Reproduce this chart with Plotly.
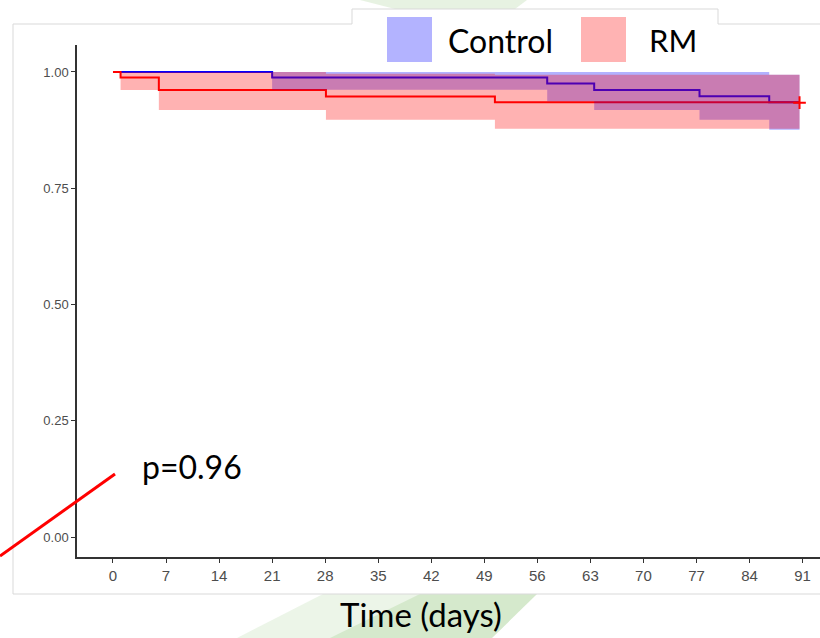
import plotly.graph_objects as go

# ---- data ----
ctrl_time = [0, 21, 57.3, 63.5, 77.4, 86.6]
ctrl_surv = [1.0, 0.988, 0.975, 0.961, 0.948, 0.935]
ctrl_upper = [1.0, 1.0, 1.0, 1.0, 1.0, 0.994]
ctrl_lower = [1.0, 0.962, 0.937, 0.918, 0.897, 0.876]

rm_time = [0, 1, 6.05, 28.1, 50.4]
rm_surv = [1.0, 0.988, 0.961, 0.947, 0.935]
rm_upper = [1.0, 1.0, 1.0, 0.996, 0.994]
rm_lower = [1.0, 0.961, 0.918, 0.897, 0.878]

end_time = 90.6
censor_time = [90.6]
censor_surv = [0.934]

x_ticks = [0, 7, 14, 21, 28, 35, 42, 49, 56, 63, 70, 77, 84, 91]
y_ticks = [0.0, 0.25, 0.5, 0.75, 1.0]
y_tick_text = ["0.00", "0.25", "0.50", "0.75", "1.00"]

series_names = ["Control", "RM"]
p_text = "p=0.96"
x_title = "Time (days)"

BLUE = "#0000FF"
RED = "#FF0000"
BLUE_FILL = "rgba(0,0,255,0.3)"
RED_FILL = "rgba(255,0,0,0.3)"


def step_xy(t, v, end):
    xs, ys = [], []
    for i in range(len(t)):
        nxt = t[i + 1] if i + 1 < len(t) else end
        xs += [t[i], nxt]
        ys += [v[i], v[i]]
    return xs, ys


def band_xy(t, up, lo, end):
    ux, uy = step_xy(t, up, end)
    lx, ly = step_xy(t, lo, end)
    return ux + lx[::-1], uy + ly[::-1]


fig = go.Figure()

# lines first, confidence ribbons on top (as in the reference)
for t, s, c, name in [(ctrl_time, ctrl_surv, BLUE, series_names[0]),
                      (rm_time, rm_surv, RED, series_names[1])]:
    fig.add_trace(go.Scatter(x=t + [end_time], y=s + [s[-1]], mode="lines",
                             line=dict(color=c, width=2, shape="hv"),
                             name=name, showlegend=False, hoverinfo="skip"))

for t, up, lo, fc in [(ctrl_time, ctrl_upper, ctrl_lower, BLUE_FILL),
                      (rm_time, rm_upper, rm_lower, RED_FILL)]:
    bx, by = band_xy(t, up, lo, end_time)
    fig.add_trace(go.Scatter(x=bx, y=by, mode="lines", fill="toself",
                             fillcolor=fc, line=dict(width=0),
                             showlegend=False, hoverinfo="skip"))

fig.add_trace(go.Scatter(x=censor_time, y=censor_surv, mode="markers",
                         marker=dict(symbol="cross-thin", size=9,
                                     line=dict(color=RED, width=2)),
                         showlegend=False, hoverinfo="skip"))

# ---- pixel helpers for decorations ----
L, T, W, H = 77, 45, 743, 512


def px(x):
    return (x - L) / W


def py(y):
    return (T + H - y) / H


shapes = []
# green watermark pieces
shapes.append(dict(type="path", xref="paper", yref="paper", layer="below",
                   path=f"M {px(237)},{py(638)} L {px(323)},{py(594)} L {px(537)},{py(594)} L {px(492)},{py(638)} Z",
                   fillcolor="rgba(160,205,140,0.2)", line=dict(width=0)))
shapes.append(dict(type="path", xref="paper", yref="paper", layer="below",
                   path=f"M {px(330)},{py(638)} L {px(420)},{py(594)} L {px(537)},{py(594)} L {px(492)},{py(638)} Z",
                   fillcolor="rgba(160,205,140,0.3)", line=dict(width=0)))
shapes.append(dict(type="path", xref="paper", yref="paper", layer="below",
                   path=f"M {px(360)},{py(0)} L {px(527)},{py(0)} L {px(515)},{py(9)} L {px(395)},{py(9)} Z",
                   fillcolor="rgba(160,205,140,0.25)", line=dict(width=0)))
# frame with legend tab
shapes.append(dict(type="path", xref="paper", yref="paper", layer="below",
                   path=(f"M {px(13)},{py(594)} L {px(13)},{py(24)} L {px(352)},{py(24)} "
                         f"L {px(352)},{py(9)} L {px(718)},{py(9)} L {px(718)},{py(24)} L {px(822)},{py(24)}"),
                   line=dict(color="#D9D9D9", width=1)))
shapes.append(dict(type="line", xref="paper", yref="paper", layer="below",
                   x0=px(13), y0=py(594), x1=px(822), y1=py(594),
                   line=dict(color="#D9D9D9", width=1)))
# legend swatches
shapes.append(dict(type="rect", xref="paper", yref="paper",
                   x0=px(387), x1=px(432), y0=py(62), y1=py(17),
                   fillcolor="#B3B3FF", line=dict(width=0)))
shapes.append(dict(type="rect", xref="paper", yref="paper",
                   x0=px(581), x1=px(626), y0=py(62), y1=py(17),
                   fillcolor="#FFB3B3", line=dict(width=0)))
# red pointer line
shapes.append(dict(type="line", xref="paper", yref="paper",
                   x0=px(0), y0=py(556), x1=px(115), y1=py(474),
                   line=dict(color="#FF0000", width=3)))

BIG = "Lato, 'Open Sans', sans-serif"
annotations = [
    dict(text=series_names[0], xref="paper", yref="paper", x=px(446), y=py(40),
         xanchor="left", yanchor="middle", showarrow=False,
         font=dict(family=BIG, size=32, color="#000000")),
    dict(text=series_names[1], xref="paper", yref="paper", x=px(647), y=py(40),
         xanchor="left", yanchor="middle", showarrow=False,
         font=dict(family=BIG, size=31, color="#000000")),
    dict(text=p_text, xref="paper", yref="paper", x=px(140), y=py(466),
         xanchor="left", yanchor="middle", showarrow=False,
         font=dict(family=BIG, size=32, color="#000000")),
    dict(text=x_title, xref="paper", yref="paper", x=px(421), y=py(614),
         xanchor="center", yanchor="middle", showarrow=False,
         font=dict(family=BIG, size=33, color="#000000")),
]

fig.update_layout(
    width=820, height=638,
    margin=dict(l=L, r=0, t=T, b=638 - T - H),
    paper_bgcolor="white", plot_bgcolor="white",
    shapes=shapes, annotations=annotations, showlegend=False,
    font=dict(family="Liberation Sans, Arial, sans-serif", size=13, color="#4D4D4D"),
)
fig.update_xaxes(range=[-4.75, 93.3], tickvals=x_ticks, showline=True,
                 linecolor="#333333", linewidth=1.5, ticks="outside", ticklen=4,
                 tickcolor="#333333", showgrid=False, zeroline=False,
                 tickfont=dict(size=15, color="#4D4D4D"))
fig.update_yaxes(range=[-0.043, 1.058], tickvals=y_ticks, ticktext=y_tick_text,
                 showline=True, linecolor="#333333", linewidth=1.5, ticks="outside",
                 ticklen=4, tickcolor="#333333", showgrid=False, zeroline=False,
                 tickfont=dict(size=13, color="#4D4D4D"))

fig.write_html("out.html", config={"displayModeBar": False},
               post_script="document.body.style.margin='0';")
